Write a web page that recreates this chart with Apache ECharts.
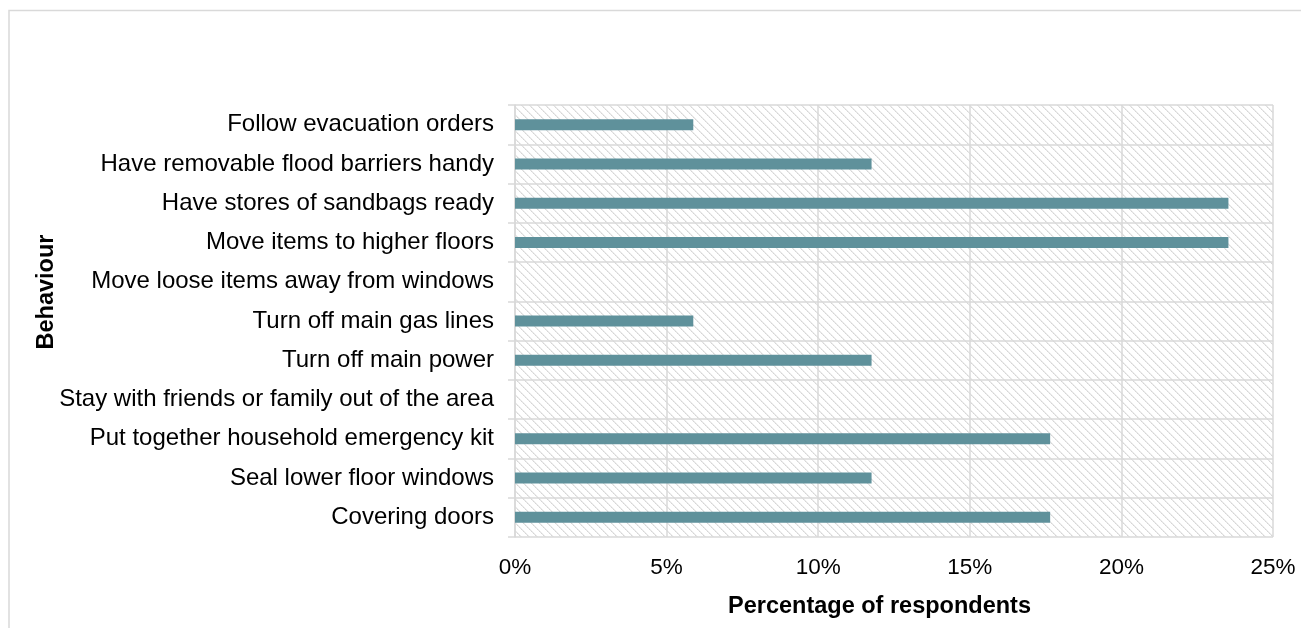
<!DOCTYPE html>
<html>
<head>
<meta charset="utf-8">
<script src="https://cdn.jsdelivr.net/npm/echarts@6/dist/echarts.min.js"></script>
<style>
  html, body { margin: 0; padding: 0; background: #fff; }
  #chart { width: 1301px; height: 628px; }
</style>
</head>
<body>
<div id="chart"></div>
<script>
// Behaviours, listed top to bottom
const behaviours = [
  'Follow evacuation orders',
  'Have removable flood barriers handy',
  'Have stores of sandbags ready',
  'Move items to higher floors',
  'Move loose items away from windows',
  'Turn off main gas lines',
  'Turn off main power',
  'Stay with friends or family out of the area',
  'Put together household emergency kit',
  'Seal lower floor windows',
  'Covering doors'
];
// Share of respondents (%)
const percentages = [5.88, 11.76, 23.53, 23.53, 0, 5.88, 11.76, 0, 17.65, 11.76, 17.65];
// Value axis ticks (%)
const tickValues = [0, 5, 10, 15, 20, 25];

// Diagonal hatch used as the plot background
function hatchPattern() {
  const c = document.createElement('canvas');
  c.width = 8; c.height = 8;
  const g = c.getContext('2d');
  g.fillStyle = '#ffffff';
  g.fillRect(0, 0, 8, 8);
  for (let i = 0; i < 8; i++) {
    g.fillStyle = i % 2 ? '#d6d6d6' : '#e2e2e2';
    g.fillRect(i, i, 1, 1);
    g.fillStyle = '#ececec';
    g.fillRect((i + 1) % 8, i, 1, 1);
  }
  return c;
}

const FONT = '"Liberation Sans", Arial, sans-serif';
const chart = echarts.init(document.getElementById('chart'));
chart.setOption({
  animation: false,
  backgroundColor: '#ffffff',
  graphic: [{
    type: 'rect',
    shape: { x: 9, y: 10.5, width: 1400, height: 1000 },
    style: { fill: 'none', stroke: '#d9d9d9', lineWidth: 1.5 },
    silent: true,
    z: -10
  }],
  grid: {
    left: 515, right: 28, top: 105, bottom: 91,
    show: true,
    borderWidth: 0,
    backgroundColor: { image: hatchPattern(), repeat: 'repeat' }
  },
  xAxis: {
    type: 'value',
    min: tickValues[0],
    max: tickValues[tickValues.length - 1],
    interval: tickValues[1] - tickValues[0],
    axisLine: { show: false },
    axisTick: { show: false },
    splitLine: { show: true, lineStyle: { color: '#d9d9d9', width: 1.5 } },
    axisLabel: {
      formatter: v => v + '%',
      color: '#000',
      fontFamily: FONT,
      fontSize: 22.5,
      margin: 19
    },
    name: 'Percentage of respondents',
    nameLocation: 'middle',
    nameGap: 58,
    nameMoveOverlap: false,
    nameTextStyle: {
      fontFamily: FONT,
      fontSize: 23.5,
      fontWeight: 'bold',
      color: '#000',
      padding: [0, 29, 0, 0]
    }
  },
  yAxis: {
    type: 'category',
    data: behaviours,
    inverse: true,
    axisLine: { show: true, lineStyle: { color: '#d9d9d9', width: 1.5 } },
    axisTick: { show: true, length: 7, lineStyle: { color: '#d9d9d9', width: 1.5 } },
    splitLine: { show: true, lineStyle: { color: '#d9d9d9', width: 1.5 } },
    axisLabel: {
      color: '#000',
      fontFamily: FONT,
      fontSize: 24,
      margin: 21
    },
    name: 'Behaviour',
    nameLocation: 'middle',
    nameGap: 456,
    nameRotate: 90,
    nameMoveOverlap: false,
    nameTextStyle: {
      fontFamily: FONT,
      fontSize: 23.5,
      fontWeight: 'bold',
      color: '#000',
      padding: [0, 0, 0, 58]
    }
  },
  series: [{
    type: 'bar',
    data: percentages,
    barWidth: 11,
    itemStyle: { color: '#5f919b' }
  }]
});
</script>
</body>
</html>
